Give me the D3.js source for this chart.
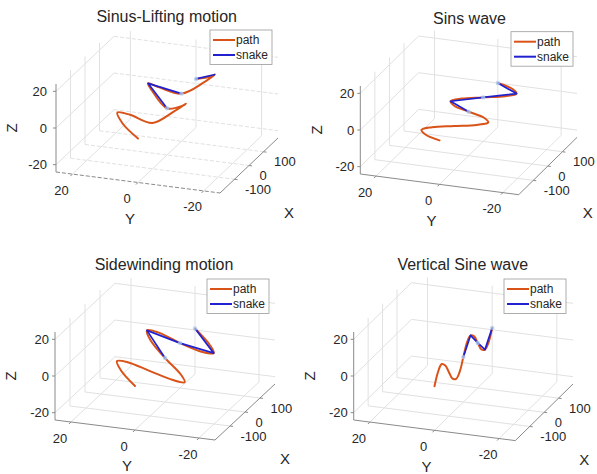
<!DOCTYPE html>
<html>
<head>
<meta charset="utf-8">
<script src="https://cdn.jsdelivr.net/npm/d3@7"></script>
<style>
  html, body { margin: 0; padding: 0; background: #ffffff; }
  svg { display: block; font-family: "Liberation Sans", Arial, sans-serif; }
</style>
</head>
<body>
<svg id="chart" width="597" height="474"></svg>
<script>
// ---------------- data ----------------
const xDomain = [-200, 200];
const yDomain = [-25, 25];
const zDomain = [-24, 24];
const xTicks = [-100, 0, 100];
const yTicks = [20, 0, -20];
const zTicks = [-20, 0, 20];
const titles = ["Sinus-Lifting motion", "Sins wave", "Sidewinding motion", "Vertical Sine wave"];
const legendLabels = ["path", "snake"];

// path samples (shared x positions)
const pathX = [-200, -175, -150, -125, -100, -75, -50, -25, 0, 25, 50, 75, 100, 125, 150, 175, 200];
// Sinus-Lifting motion
const path1Y = [0, 5.8, 8.5, 5.7, 0, -5.7, -8, -5.7, 0, 5.7, 8, 5.7, 0, -5.7, -8, -5.7, 0];
const path1Z = [0, 5, 8.5, 6, 1, 7, 9.5, 6, 1.5, 8, 9.5, 6, 2, 7.5, 10.5, 7, 2.5];
// Sins wave
const path2Y = [0, 5.6, 8, 5.8, 0, -6, -8.5, -6, 0, 5.7, 8, 5.7, 0, -5.8, -8.2, -5.8, 0];
const path2Z = [0, 0, 0, 0, 0, 0, 0, 0, 0, 0, 0, 0, 0, 0, 0, 0, 0];
// Sidewinding motion
const path3Y = [0, 5.6, 8, 5.8, 0, -6, -8.5, -6, 0, 5.7, 8, 5.7, 0, -5.8, -8.2, -5.8, 0];
const path3Z = [0, 5.5, 8, 6, 0.5, -5, -7.5, -5.5, 0, 6.5, 9.5, 7, 0.5, -5, -7, -5, 0.8];
// Vertical Sine wave
const path4Y = [0, 0, 0, 0, 0, 0, 0, 0, 0, 0, 0, 0, 0, 0, 0, 0, 0];
const path4Z = [0, 6, 8.3, 5.5, 0, -5.5, -7.5, -5.5, 0.5, 6.5, 8.5, 6, 0.5, -5, -7, -5, 1];

// snake joints (visible runs)
const snake1X = [[0, 50, 100], [150, 200]];
const snake1Y = [[0, 8, 0], [-8, 0]];
const snake1Z = [[1.5, 9.5, 2], [10.5, 2.5]];
const snake2X = [[0, 50, 100, 150, 200]];
const snake2Y = [[0, 8, 0, -8.2, 0]];
const snake2Z = [[0, 0, 0, 0, 0]];
const snake3X = [[0, 50, 100, 150, 200]];
const snake3Y = [[0, 8, 0, -8.2, 0]];
const snake3Z = [[0, 9.5, 0.5, -7, 0.8]];
const snake4X = [[0, 50, 100, 150, 200]];
const snake4Y = [[0, 0, 0, 0, 0]];
const snake4Z = [[0.5, 8.5, 0.5, -7, 1]];
// joints carrying a marker
const markerX = [0, 100, 200];

// ---------------- layout ----------------
const panels = [
  { ox: 56, oy: 172, ex: [58, -55], ey: [164, 21], ez: [0, -88], tx: 166.7, ty: 22, lg: [210, 30], zPad: 9, dashed: true,
    path: [path1Y, path1Z], snake: [snake1X, snake1Y, snake1Z] },
  { ox: 360.3, oy: 174, ex: [58.3, -57.3], ey: [158.4, 20.7], ez: [0, -88], tx: 469.5, ty: 23.5, lg: [511, 31.7], zPad: 6, dashed: false,
    path: [path2Y, path2Z], snake: [snake2X, snake2Y, snake2Z] },
  { ox: 55, oy: 420, ex: [60, -56], ey: [160, 20], ez: [0, -88], tx: 164, ty: 270.3, lg: [207, 279], zPad: 6, dashed: false,
    path: [path3Y, path3Z], snake: [snake3X, snake3Y, snake3Z] },
  { ox: 353.7, oy: 420, ex: [57.7, -56.6], ey: [161.6, 20.6], ez: [0, -88], tx: 462.8, ty: 270.3, lg: [504, 279], zPad: 6, dashed: false,
    path: [path4Y, path4Z], snake: [snake4X, snake4Y, snake4Z] }
];

const PATH_COLOR = "#D95319";
const SNAKE_COLOR = "#2121cf";
const GRID_COLOR = "#e1e1e1";
const AXIS_COLOR = "#8a8a8a";
const TEXT_COLOR = "#262626";

const svg = d3.select("#chart");

panels.forEach((p, i) => {
  const su = d3.scaleLinear().domain(xDomain).range([0, 1]);
  const sv = d3.scaleLinear().domain([yDomain[1], yDomain[0]]).range([0, 1]);
  const sw = d3.scaleLinear().domain(zDomain).range([0, 1]);
  const proj = (x, y, z) => {
    const u = su(x), v = sv(y), w = sw(z);
    return [p.ox + u * p.ex[0] + v * p.ey[0] + w * p.ez[0],
            p.oy + u * p.ex[1] + v * p.ey[1] + w * p.ez[1]];
  };
  const [x0, x1] = xDomain, [y0, y1] = yDomain, [z0, z1] = zDomain;
  const g = svg.append("g");

  const seg = (a, b, color, width, dash) => {
    const pa = proj(...a), pb = proj(...b);
    g.append("line").attr("x1", pa[0]).attr("y1", pa[1]).attr("x2", pb[0]).attr("y2", pb[1])
      .attr("stroke", color).attr("stroke-width", width)
      .attr("stroke-dasharray", dash ? "4,2" : null);
  };
  const ydash = p.dashed;

  // back wall x = xmax
  yTicks.forEach(t => seg([x1, t, z0], [x1, t, z1], GRID_COLOR, 1, false));
  zTicks.forEach(t => seg([x1, y1, t], [x1, y0, t], GRID_COLOR, 1, ydash));
  // side wall y = ymax
  xTicks.forEach(t => seg([t, y1, z0], [t, y1, z1], GRID_COLOR, 1, false));
  zTicks.forEach(t => seg([x0, y1, t], [x1, y1, t], GRID_COLOR, 1, false));
  // floor z = zmin
  xTicks.forEach(t => seg([t, y1, z0], [t, y0, z0], GRID_COLOR, 1, ydash));
  yTicks.forEach(t => seg([x0, t, z0], [x1, t, z0], GRID_COLOR, 1, false));

  // axis lines
  seg([x0, y1, z0], [x0, y1, z1], AXIS_COLOR, 1, false);       // Z
  seg([x0, y1, z0], [x0, y0, z0], AXIS_COLOR, 1, ydash);       // Y
  seg([x0, y0, z0], [x1, y0, z0], AXIS_COLOR, 1, false);       // X

  // tick marks
  zTicks.forEach(t => { const a = proj(x0, y1, t);
    g.append("line").attr("x1", a[0] - 3).attr("y1", a[1]).attr("x2", a[0]).attr("y2", a[1]).attr("stroke", AXIS_COLOR); });
  yTicks.forEach(t => { const a = proj(x0, t, z0);
    g.append("line").attr("x1", a[0]).attr("y1", a[1]).attr("x2", a[0] - 2).attr("y2", a[1] + 2).attr("stroke", AXIS_COLOR); });
  xTicks.forEach(t => { const a = proj(t, y0, z0);
    g.append("line").attr("x1", a[0]).attr("y1", a[1]).attr("x2", a[0] + 3).attr("y2", a[1] + 0.4).attr("stroke", AXIS_COLOR); });

  // tick labels
  zTicks.forEach(t => { const a = proj(x0, y1, t);
    g.append("text").attr("x", a[0] - p.zPad).attr("y", a[1]).attr("dy", "0.35em")
      .attr("text-anchor", "end").attr("font-size", 13).attr("fill", TEXT_COLOR).text(t); });
  yTicks.forEach(t => { const a = proj(x0, t, z0);
    g.append("text").attr("x", a[0] - 11).attr("y", a[1] + 16).attr("dy", "0.35em")
      .attr("text-anchor", "middle").attr("font-size", 13).attr("fill", TEXT_COLOR).text(t); });
  xTicks.forEach(t => { const a = proj(t, y0, z0);
    g.append("text").attr("x", a[0] + 10.5).attr("y", a[1] + 10).attr("dy", "0.35em")
      .attr("text-anchor", "start").attr("font-size", 13).attr("fill", TEXT_COLOR).text(t); });

  // axis labels
  const zl = proj(x0, y1, 0);
  g.append("text").attr("transform", `translate(${p.ox - 44},${zl[1]}) rotate(-90)`).attr("dy", "0.35em")
    .attr("text-anchor", "middle").attr("font-size", 15).attr("fill", TEXT_COLOR).text("Z");
  const yl = proj(x0, 0, z0);
  g.append("text").attr("x", yl[0] - 8).attr("y", yl[1] + 36).attr("dy", "0.35em")
    .attr("text-anchor", "middle").attr("font-size", 15).attr("fill", TEXT_COLOR).text("Y");
  const xl = proj(0, y0, z0);
  g.append("text").attr("x", xl[0] + 40).attr("y", xl[1] + 47).attr("dy", "0.35em")
    .attr("text-anchor", "middle").attr("font-size", 15).attr("fill", TEXT_COLOR).text("X");

  // title
  g.append("text").attr("x", p.tx).attr("y", p.ty).attr("text-anchor", "middle")
    .attr("font-size", 16).attr("fill", TEXT_COLOR).text(titles[i]);

  // path
  const [pY, pZ] = p.path;
  const pathPts = pathX.map((x, k) => proj(x, pY[k], pZ[k]));
  g.append("path").attr("d", d3.line().curve(d3.curveCatmullRom.alpha(0.5))(pathPts))
    .attr("fill", "none").attr("stroke", PATH_COLOR).attr("stroke-width", 2)
    .attr("stroke-linejoin", "round").attr("stroke-linecap", "round");

  // snake
  const [sX, sY, sZ] = p.snake;
  sX.forEach((run, r) => {
    const pts = run.map((x, k) => proj(x, sY[r][k], sZ[r][k]));
    g.append("path").attr("d", d3.line()(pts))
      .attr("fill", "none").attr("stroke", SNAKE_COLOR).attr("stroke-width", 1.7)
      .attr("stroke-linejoin", "round");
    run.forEach((x, k) => {
      if (markerX.includes(x)) {
        const q = proj(x, sY[r][k], sZ[r][k]);
        g.append("circle").attr("cx", q[0]).attr("cy", q[1]).attr("r", 2.2)
          .attr("fill", "#a9c9f2").attr("fill-opacity", 0.75);
      }
    });
  });

  // legend
  const [lx, ly] = p.lg;
  const lg = g.append("g").attr("transform", `translate(${lx},${ly})`);
  lg.append("rect").attr("x", 0).attr("y", 0).attr("width", 62).attr("height", 34.5)
    .attr("fill", "#ffffff").attr("stroke", "#9a9a9a").attr("stroke-width", 0.8);
  [PATH_COLOR, SNAKE_COLOR].forEach((c, k) => {
    const yy = 10 + k * 15;
    lg.append("line").attr("x1", 3).attr("x2", 25).attr("y1", yy).attr("y2", yy)
      .attr("stroke", c).attr("stroke-width", 2);
    lg.append("text").attr("x", 26).attr("y", yy).attr("dy", "0.35em")
      .attr("font-size", 12).attr("fill", TEXT_COLOR).text(legendLabels[k]);
  });
});
</script>
</body>
</html>
